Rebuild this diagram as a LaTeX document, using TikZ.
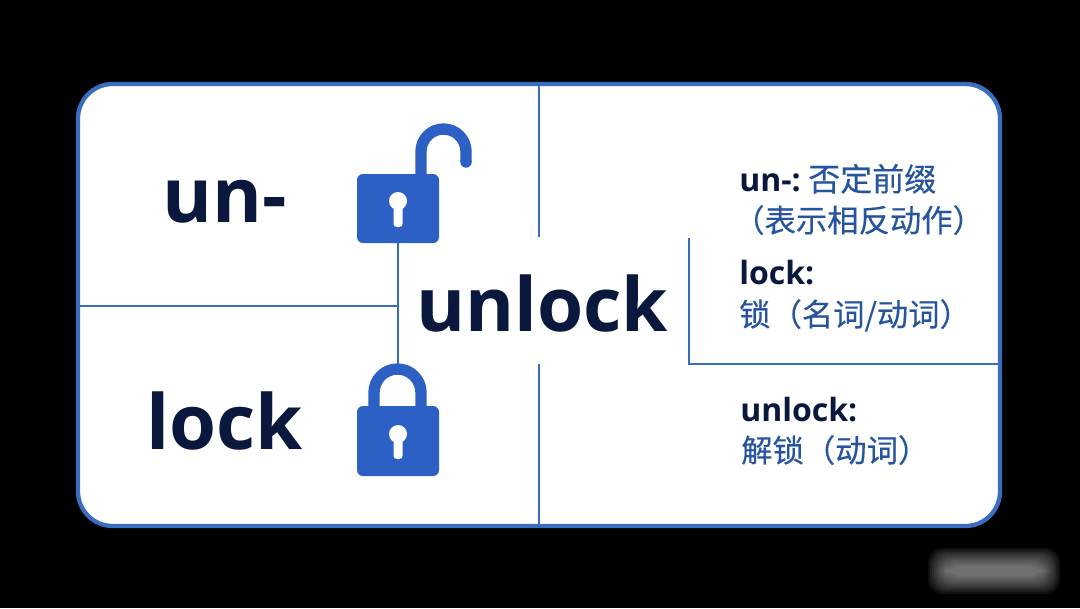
\documentclass[tikz,border=0pt]{standalone}
\usepackage{fontspec}
\setmainfont{Open Sans}
\newfontfamily\cjkfont[FakeBold=0.25]{Noto Sans CJK SC}
\definecolor{frameblue}{RGB}{58,108,192}
\definecolor{lockblue}{RGB}{44,96,196}
\definecolor{inkdark}{RGB}{10,24,62}
\definecolor{inkblue}{RGB}{38,84,158}
\tikzset{
  rule/.style={color=frameblue,line width=1.5},
  lockbody/.style={fill=lockblue,draw=none,rounded corners=4.5},
  shackle/.style={draw=lockblue,line width=8.5},
  keyhole/.style={fill=white,draw=none},
  bigword/.style={anchor=base west,inner sep=0pt,color=inkdark,font=\fontsize{57}{62}\selectfont\bfseries},
  tagword/.style={anchor=base west,inner sep=0pt,color=inkdark,font=\fontsize{24}{28}\selectfont\bfseries},
  tagcjk/.style={anchor=base west,inner sep=0pt,color=inkblue,font=\fontsize{23.5}{28}\selectfont\cjkfont},
}
\begin{document}
\begin{tikzpicture}[x=0.75pt,y=0.75pt,yscale=-1]
\useasboundingbox (0,0) rectangle (1080,608);

%Shape: Background
\fill [black] (0,0) rectangle (1080,608);
%Shape: Frame
\draw [color=frameblue,fill=white,line width=3.2,rounded corners=26] (78,84) rectangle (1000,526);

%Straight Lines
\coordinate (topmid) at (539,84);
\coordinate (topmidend) at (539,237);
\coordinate (botmid) at (539,364);
\coordinate (botmidend) at (539,526);
\coordinate (leftedge) at (78,306);
\coordinate (leftend) at (398,306);
\coordinate (stemtop) at (398,243);
\coordinate (stembot) at (398,364);
\coordinate (boxtop) at (689,238);
\coordinate (boxcorner) at (689,364);
\coordinate (rightedge) at (1000,364);
\draw [rule] (topmid) -- (topmidend);
\draw [rule] (botmid) -- (botmidend);
\draw [rule] (leftedge) -- (leftend);
\draw [rule] (stemtop) -- (stembot);
\draw [rule] (boxtop) -- (boxcorner) -- (rightedge);

%Shape: Open lock
\draw [shackle] (421,178) -- (421,151.5) arc [start angle=180,end angle=360,radius=22.5] -- (466,162);
\fill [lockblue] (466,162) circle [radius=5.7];
\fill [lockbody] (357,174) rectangle (439,243);
\fill [keyhole] (398,201) circle [radius=9];
\fill [keyhole,rounded corners=2.5] (393.5,203) rectangle (402.5,227);

%Shape: Closed lock
\draw [shackle] (374,410) -- (374,392.5) arc [start angle=180,end angle=360,radius=23.5] -- (421,410);
\fill [lockbody] (357,406) rectangle (439,476);
\fill [keyhole] (398,434) circle [radius=9];
\fill [keyhole,rounded corners=2.5] (393.5,436) rectangle (402.5,459);

%Shape: Blurred mark
\foreach \grow in {12,10,...,-6}{
  \fill [white,opacity=0.06,rounded corners=11] (940-\grow,560-\grow) rectangle (1048+\grow,582+\grow);
}

% Text Node
\node (prefix) at (162,222) [bigword] {un-};
% Text Node
\node (root) at (146,449) [bigword] {lock};
% Text Node
\node (word) at (416,331) [bigword,font=\fontsize{56}{62}\selectfont\bfseries] {unlock};
% Text Node
\node (prefixtag) at (739,191) [tagword] {un-:};
\node (prefixcn) at (808,191) [tagcjk,font=\fontsize{24}{28}\selectfont\cjkfont] {否定前缀};
% Text Node
\node (prefixnote) at (733,232) [tagcjk] {（表示相反动作）};
% Text Node
\node (roottag) at (739,284) [tagword] {lock:};
% Text Node
\node (rootcn) at (739,326) [tagcjk] {锁（名词/动词）};
% Text Node
\node (wordtag) at (740,421) [tagword] {unlock:};
% Text Node
\node (wordcn) at (741,462) [tagcjk] {解锁（动词）};

\end{tikzpicture}
\end{document}
